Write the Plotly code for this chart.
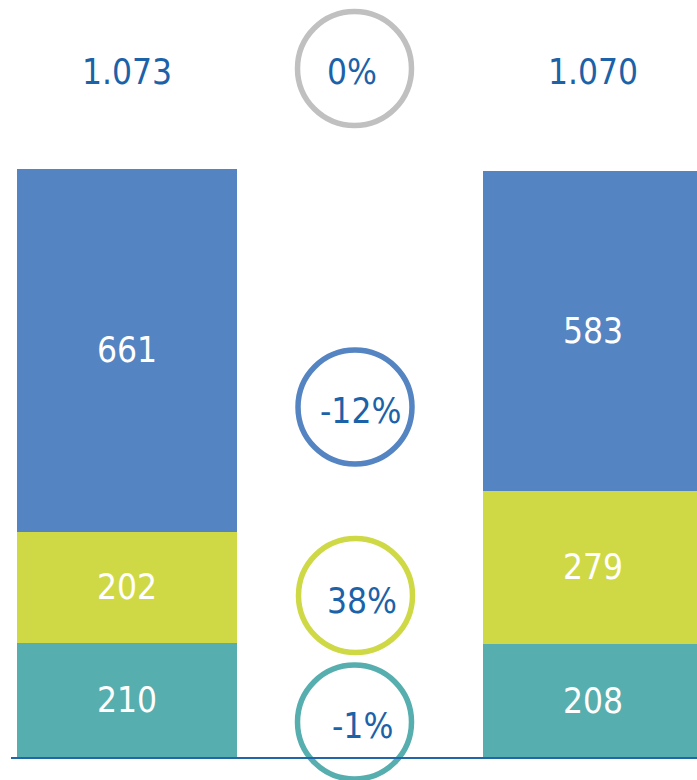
import plotly.graph_objects as go

# ---- data ----
periods = ["Vorjahr", "Aktuell"]
seg_names = ["Segment C", "Segment B", "Segment A"]  # bottom -> top
seg_c = [210, 208]
seg_b = [202, 279]
seg_a = [661, 583]
colors = ["#57AEAE", "#CFD945", "#5484C2"]
circle_colors = ["#57AEAE", "#CFD945", "#5484C2", "#C0C0C0"]

W, H = 697, 780
FONT = "DejaVu Sans Condensed, DejaVu Sans, sans-serif"
TXT = "#1B62A9"
FS = 35

series = [seg_c, seg_b, seg_a]
totals = [sum(v) for v in zip(*series)]

fig = go.Figure()
for name, vals, col in zip(seg_names, series, colors):
    fig.add_trace(go.Bar(
        x=periods, y=vals, name=name, marker=dict(color=col, line=dict(width=0)),
        text=[str(v) for v in vals], textposition="inside", insidetextanchor="middle",
        textfont=dict(color="white", size=FS, family=FONT), width=0.472,
        hoverinfo="skip"))

# pixel helpers (margins are zero, so paper == figure)
def px(x):
    return x / W

def py(y):
    return 1 - y / H

# totals on top
for p, t in zip(periods, totals):
    fig.add_annotation(x=p, y=py(72), yref="paper", text=f"{t:,}".replace(",", "."),
                       showarrow=False, font=dict(size=FS, color=TXT, family=FONT),
                       xanchor="center", yanchor="middle")

# change circles: bottom segment, middle, top, total
changes = [(v[1] / v[0] - 1) for v in series] + [totals[1] / totals[0] - 1]
circle_centers = [(354.5, 722), (355.5, 595.5), (355, 407), (354.5, 68.5)]
text_centers = [(363, 726), (362, 601), (360, 411), (352, 72)]
R = 57
for ch, col, (cx, cy), (tx, ty) in zip(changes, circle_colors, circle_centers, text_centers):
    fig.add_shape(type="circle", xref="paper", yref="paper",
                  x0=px(cx - R), x1=px(cx + R), y0=py(cy + R), y1=py(cy - R),
                  line=dict(color=col, width=5.5), fillcolor="rgba(0,0,0,0)")
    fig.add_annotation(x=px(tx), y=py(ty), xref="paper", yref="paper",
                       text=f"{round(ch * 100):.0f}%", showarrow=False,
                       font=dict(size=FS, color=TXT, family=FONT),
                       xanchor="center", yanchor="middle")

# baseline
fig.add_shape(type="line", xref="paper", yref="y", x0=px(11), x1=1, y0=0, y1=0,
              line=dict(color="#2266AA", width=2))

scale = (758 - 169) / totals[0]
fig.update_layout(
    width=W, height=H, barmode="stack", showlegend=False,
    margin=dict(l=0, r=0, t=0, b=0), plot_bgcolor="white", paper_bgcolor="white",
    xaxis=dict(range=[-127 / 466, (W - 127) / 466], visible=False),
    yaxis=dict(range=[-(H - 758) / scale, 758 / scale], visible=False),
    uniformtext=dict(minsize=FS, mode="show"),
)
fig.write_html("out.html", config={"displayModeBar": False},
               post_script="document.body.style.margin='0';document.body.style.overflow='hidden';")
